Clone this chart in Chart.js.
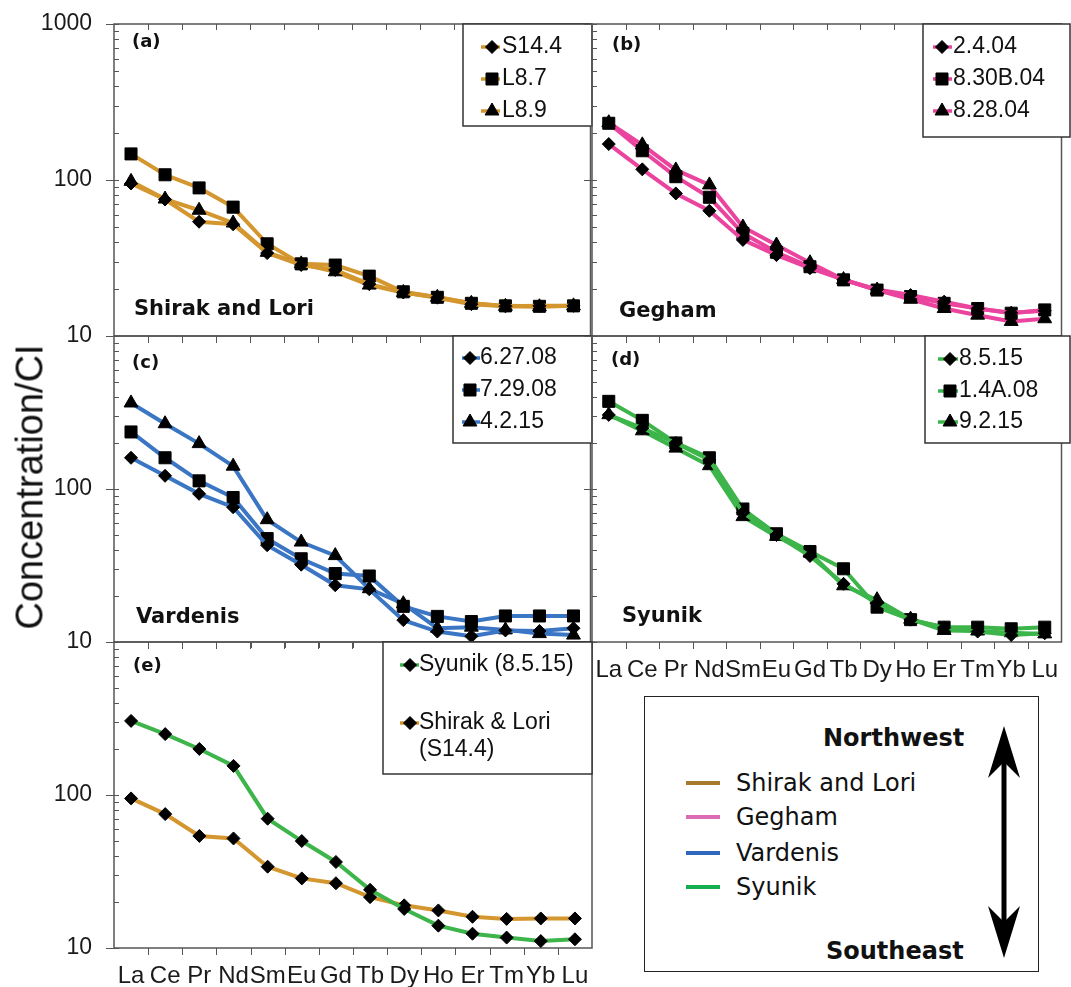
<!DOCTYPE html>
<html>
<head>
<meta charset="utf-8">
<script src="https://cdn.jsdelivr.net/npm/chart.js@4.4.1/dist/chart.umd.min.js"></script>
<style>
html,body{margin:0;padding:0;background:#fff;}
body{width:1071px;height:987px;position:relative;overflow:hidden;font-family:'Liberation Sans',Arial,sans-serif;}
canvas{position:absolute;}
#ytitle{position:absolute;left:30px;top:487px;transform:translate(-50%,-50%) rotate(-90deg);font-size:38px;white-space:nowrap;color:#111;font-family:'Liberation Sans',Arial,sans-serif;}
#region{position:absolute;left:644px;top:696px;width:393px;height:274px;border:1.5px solid #222;background:#fff;}
#region .dir{position:absolute;font-family:'DejaVu Sans',Verdana,sans-serif;font-weight:bold;font-size:24px;line-height:30px;height:30px;white-space:nowrap;color:#111;}
#region .ln{position:absolute;left:41px;width:34px;height:4px;}
#region .tx{position:absolute;left:91px;font-family:'DejaVu Sans',Verdana,sans-serif;font-size:24px;line-height:30px;height:30px;white-space:nowrap;color:#111;}
#region svg{position:absolute;left:339px;top:25px;}
</style>
</head>
<body>
<canvas id="pa"></canvas>
<canvas id="pb"></canvas>
<canvas id="pc"></canvas>
<canvas id="pd"></canvas>
<canvas id="pe"></canvas>
<div id="ytitle">Concentration/CI</div>
<div id="region">
  <div class="dir" style="left:178px;top:26px;">Northwest</div>
  <div class="ln" style="top:84px;background:#A77B2D;"></div><div class="tx" style="top:71px;">Shirak and Lori</div>
  <div class="ln" style="top:118px;background:#DB6BB6;"></div><div class="tx" style="top:105px;">Gegham</div>
  <div class="ln" style="top:154px;background:#2F67BE;"></div><div class="tx" style="top:141px;">Vardenis</div>
  <div class="ln" style="top:188px;background:#14AE4E;"></div><div class="tx" style="top:175px;">Syunik</div>
  <div class="dir" style="left:181px;top:239px;">Southeast</div>
  <svg width="40" height="240" viewBox="0 0 40 240">
    <line x1="20" y1="36" x2="20" y2="204" stroke="#000" stroke-width="5"/>
    <polygon points="20,4 36,56 20,40 4,56" fill="#000"/>
    <polygon points="20,236 36,184 20,200 4,184" fill="#000"/>
  </svg>
</div>
<script>
// ---- data ----
const elements = ['La','Ce','Pr','Nd','Sm','Eu','Gd','Tb','Dy','Ho','Er','Tm','Yb','Lu'];
const yTickValues = [10,20,30,40,50,60,70,80,90,100,200,300,400,500,600,700,800,900,1000];
const yMajor = [10,100,1000];

// (a) Shirak and Lori
const S14_4 = [95, 75, 54, 52, 34, 28.5, 26.5, 21.5, 19, 17.6, 16, 15.5, 15.6, 15.6];
const L8_7  = [147, 108, 89, 67, 39, 29, 28.5, 24.2, 19.2, 17.7, 16.2, 15.6, 15.5, 15.6];
const L8_9  = [98, 75.5, 64, 53, 34.4, 29, 25.8, 21.2, 19, 17.7, 16.2, 15.5, 15.4, 15.6];
// (b) Gegham
const G2_4_04   = [170, 117, 82, 63.5, 41.3, 33, 27.2, 23, 19.9, 18.3, 16.6, 15, 14.1, 14.5];
const G8_30B_04 = [231, 154, 105, 77.5, 45.5, 34.4, 27.8, 22.9, 19.7, 17.9, 16.2, 15, 14, 14.7];
const G8_28_04  = [233, 168, 116, 93, 50, 38.3, 29.5, 23, 19.7, 17.2, 15, 13.6, 12.4, 12.9];
// (c) Vardenis
const V6_27_08 = [160, 122, 93, 76, 42.9, 32, 23.5, 22.1, 13.9, 11.7, 10.9, 11.9, 11.8, 12.3];
const V7_29_08 = [236, 160, 113, 88, 47.4, 35, 28, 27, 17.1, 14.7, 13.6, 14.8, 14.8, 14.8];
const V4_2_15  = [365, 267, 198, 141, 63, 45, 36.7, 22.3, 17.8, 12.3, 12.5, 12.0, 11.35, 11.1];
// (d) Syunik
const Y8_5_15  = [305, 250, 200, 155, 70, 50, 36.5, 24, 18, 14, 12.4, 11.7, 11.1, 11.4];
const Y1_4A_08 = [374, 281, 200, 160, 74, 51, 39, 30.1, 16.9, 14, 12.5, 12.5, 12.2, 12.5];
const Y9_2_15  = [306, 240, 185, 142, 66, 49, 38.2, 23.3, 18.9, 14.1, 11.9, 11.8, 11.5, 11.3];

const C_BROWN = '#D4962E', C_PINK = '#EA449E', C_BLUE = '#3A76C4', C_GREEN = '#3DB54A';
const R = {rectRot: 6.5, rect: 8.5, triangle: 8};

function ds(label, data, color, style) {
  return {label, data, borderColor: color, backgroundColor: '#000', borderWidth: 4,
    pointStyle: style, pointRadius: R[style], pointBackgroundColor: '#000',
    pointBorderColor: '#000', pointBorderWidth: 1, tension: 0, fill: false};
}

function drawMarker(ctx, style, x, y, r) {
  ctx.beginPath();
  if (style === 'rectRot') { ctx.moveTo(x, y - r); ctx.lineTo(x + r, y); ctx.lineTo(x, y + r); ctx.lineTo(x - r, y); }
  else if (style === 'rect') { const s = r * Math.SQRT1_2; ctx.rect(x - s, y - s, 2 * s, 2 * s); }
  else { ctx.moveTo(x, y - r); ctx.lineTo(x + r * 0.866, y + r / 2); ctx.lineTo(x - r * 0.866, y + r / 2); }
  ctx.closePath(); ctx.fill(); ctx.stroke();
}

function zeroPad(s) { s.paddingTop = 0; s.paddingBottom = 0; s.paddingLeft = 0; s.paddingRight = 0; }

const deco = {
  id: 'deco',
  beforeDatasetsDraw(chart, args, o) {
    const ctx = chart.ctx, a = chart.chartArea, ys = chart.scales.y, xs = chart.scales.x;
    ctx.save();
    ctx.strokeStyle = '#555'; ctx.lineWidth = 1;
    ys.ticks.forEach(t => {
      const y = Math.round(ys.getPixelForValue(t.value)) + 0.5;
      ctx.beginPath();
      if (t.major) { ctx.moveTo(a.left - 8, y); ctx.lineTo(a.left + 5, y); }
      else { ctx.moveTo(a.left, y); ctx.lineTo(a.left + 5, y); }
      ctx.stroke();
    });
    const n = chart.data.labels.length;
    for (let i = 1; i < n; i++) {
      const x = Math.round((xs.getPixelForValue(i - 1) + xs.getPixelForValue(i)) / 2) + 0.5;
      ctx.beginPath();
      ctx.moveTo(x, a.top); ctx.lineTo(x, a.top + 6);
      ctx.moveTo(x, a.bottom); ctx.lineTo(x, a.bottom + 7);
      ctx.stroke();
    }
    ctx.strokeStyle = '#555'; ctx.lineWidth = 1.5;
    ctx.strokeRect(a.left, a.top, a.right - a.left, a.bottom - a.top);
    ctx.restore();
  },
  afterDatasetsDraw(chart, args, o) {
    const ctx = chart.ctx, ox = o.off[0], oy = o.off[1];
    ctx.save();
    const L = o.legend;
    const b = L.box;
    ctx.fillStyle = '#fff';
    ctx.fillRect(b[0] - ox, b[1] - oy, b[2] - b[0], b[3] - b[1]);
    ctx.strokeStyle = '#333'; ctx.lineWidth = 1.5;
    ctx.strokeRect(b[0] - ox, b[1] - oy, b[2] - b[0], b[3] - b[1]);
    L.items.forEach(it => {
      const d = chart.data.datasets[it.ds];
      const y = it.y - oy;
      ctx.strokeStyle = d.borderColor; ctx.lineWidth = 3.5;
      ctx.beginPath(); ctx.moveTo(L.line[0] - ox, y); ctx.lineTo(L.line[1] - ox, y); ctx.stroke();
      ctx.fillStyle = '#000'; ctx.strokeStyle = '#000'; ctx.lineWidth = 1;
      drawMarker(ctx, d.pointStyle, L.mx - ox, y, d.pointRadius);
      ctx.fillStyle = '#111';
      ctx.font = '23px "Liberation Sans", Arial, sans-serif';
      ctx.textBaseline = 'middle'; ctx.textAlign = 'left';
      it.text.forEach((t, k) => ctx.fillText(t, L.tx - ox, y + k * 27));
    });
    ctx.fillStyle = '#111';
    ctx.textAlign = 'left';
    ctx.font = 'bold 18px "DejaVu Sans", Verdana, sans-serif';
    ctx.textBaseline = 'middle';
    ctx.fillText(o.tag[0], o.tag[1] - ox, o.tag[2] - oy);
    if (o.name) {
      ctx.font = 'bold 21px "DejaVu Sans", Verdana, sans-serif';
      ctx.textBaseline = 'alphabetic';
      ctx.fillText(o.name[0], o.name[1] - ox, o.name[2] - oy);
    }
    ctx.restore();
  }
};

function makePanel(id, cfg) {
  const cv = document.getElementById(id);
  cv.width = cfg.cw; cv.height = cfg.ch;
  cv.style.left = cfg.cx + 'px'; cv.style.top = cfg.cy + 'px';
  cv.style.width = cfg.cw + 'px'; cv.style.height = cfg.ch + 'px';
  const A = cfg.area;
  const font = {family: '"Liberation Sans", Arial, sans-serif', size: 23};
  const xfont = {family: '"Liberation Sans", Arial, sans-serif', size: 24};
  new Chart(cv, {
    type: 'line',
    data: {labels: elements, datasets: cfg.datasets},
    options: {
      responsive: false, animation: false, events: [],
      layout: {padding: {left: 0, top: A[1] - cfg.cy, right: cfg.cx + cfg.cw - A[2], bottom: 0}},
      plugins: {
        legend: {display: false}, tooltip: {enabled: false},
        deco: {off: [cfg.cx, cfg.cy], legend: cfg.legend, tag: cfg.tag, name: cfg.name}
      },
      scales: {
        x: {
          type: 'category', offset: true,
          grid: {display: false, drawTicks: false}, border: {display: false},
          ticks: {display: cfg.xLabels, autoSkip: false, maxRotation: 0, minRotation: 0, padding: 14, color: '#1a1a1a', font: xfont},
          afterFit: s => { s.height = cfg.cy + cfg.ch - A[3]; zeroPad(s); }
        },
        y: {
          type: 'logarithmic', min: 10, max: 1000,
          grid: {display: false, drawTicks: false}, border: {display: false},
          ticks: {display: cfg.yLabels.length > 0, autoSkip: false, padding: 22, color: '#1a1a1a', font,
            callback: v => cfg.yLabels.includes(v) ? String(v) : ''},
          afterBuildTicks: s => { s.ticks = yTickValues.map(v => ({value: v, major: yMajor.includes(v)})); },
          afterFit: s => { s.width = A[0] - cfg.cx; zeroPad(s); }
        }
      }
    },
    plugins: [deco]
  });
}

makePanel('pa', {
  cx: 0, cy: 0, cw: 600, ch: 360, area: [114, 24, 592, 336], xLabels: false, yLabels: [10, 100, 1000],
  datasets: [ds('S14.4', S14_4, C_BROWN, 'rectRot'), ds('L8.7', L8_7, C_BROWN, 'rect'), ds('L8.9', L8_9, C_BROWN, 'triangle')],
  legend: {box: [463, 24, 592, 126], line: [481, 500], mx: 492, tx: 502,
    items: [{ds: 0, y: 47, text: ['S14.4']}, {ds: 1, y: 79, text: ['L8.7']}, {ds: 2, y: 111, text: ['L8.9']}]},
  tag: ['(a)', 132, 42], name: ['Shirak and Lori', 134, 315]
});
makePanel('pb', {
  cx: 560, cy: 0, cw: 511, ch: 360, area: [592, 24, 1070, 336], xLabels: false, yLabels: [],
  datasets: [ds('2.4.04', G2_4_04, C_PINK, 'rectRot'), ds('8.30B.04', G8_30B_04, C_PINK, 'rect'), ds('8.28.04', G8_28_04, C_PINK, 'triangle')],
  legend: {box: [923, 24, 1070, 137], line: [933, 952], mx: 942, tx: 953,
    items: [{ds: 0, y: 47, text: ['2.4.04']}, {ds: 1, y: 79, text: ['8.30B.04']}, {ds: 2, y: 111, text: ['8.28.04']}]},
  tag: ['(b)', 612, 45], name: ['Gegham', 619, 317]
});
makePanel('pc', {
  cx: 0, cy: 320, cw: 600, ch: 345, area: [114, 336, 592, 642], xLabels: false, yLabels: [10, 100],
  datasets: [ds('6.27.08', V6_27_08, C_BLUE, 'rectRot'), ds('7.29.08', V7_29_08, C_BLUE, 'rect'), ds('4.2.15', V4_2_15, C_BLUE, 'triangle')],
  legend: {box: [453, 336, 592, 443], line: [462, 480], mx: 470, tx: 480,
    items: [{ds: 0, y: 358, text: ['6.27.08']}, {ds: 1, y: 390, text: ['7.29.08']}, {ds: 2, y: 422, text: ['4.2.15']}]},
  tag: ['(c)', 132, 363], name: ['Vardenis', 136, 623]
});
makePanel('pd', {
  cx: 560, cy: 320, cw: 511, ch: 380, area: [592, 336, 1070, 642], xLabels: true, yLabels: [],
  datasets: [ds('8.5.15', Y8_5_15, C_GREEN, 'rectRot'), ds('1.4A.08', Y1_4A_08, C_GREEN, 'rect'), ds('9.2.15', Y9_2_15, C_GREEN, 'triangle')],
  legend: {box: [925, 336, 1070, 443], line: [938, 958], mx: 950, tx: 959,
    items: [{ds: 0, y: 359, text: ['8.5.15']}, {ds: 1, y: 391, text: ['1.4A.08']}, {ds: 2, y: 422, text: ['9.2.15']}]},
  tag: ['(d)', 611, 360], name: ['Syunik', 622, 622]
});
makePanel('pe', {
  cx: 0, cy: 625, cw: 600, ch: 362, area: [114, 642, 592, 948], xLabels: true, yLabels: [10, 100],
  datasets: [ds('Syunik (8.5.15)', Y8_5_15, C_GREEN, 'rectRot'), ds('Shirak & Lori (S14.4)', S14_4, C_BROWN, 'rectRot')],
  legend: {box: [383, 642, 592, 774], line: [400, 419], mx: 410, tx: 419,
    items: [{ds: 0, y: 665, text: ['Syunik (8.5.15)']}, {ds: 1, y: 723, text: ['Shirak & Lori', '(S14.4)']}]},
  tag: ['(e)', 133, 666], name: null
});
</script>
</body>
</html>
